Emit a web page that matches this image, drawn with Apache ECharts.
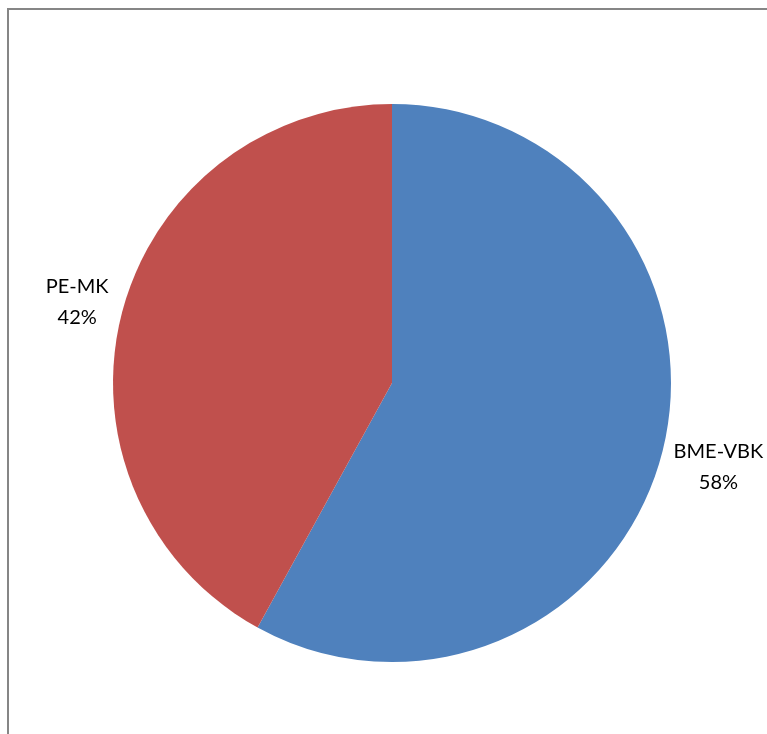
<!DOCTYPE html>
<html>
<head>
<meta charset="utf-8">
<script src="https://cdn.jsdelivr.net/npm/echarts@6/dist/echarts.min.js"></script>
<style>html,body{margin:0;padding:0;background:#fff;}#c{width:767px;height:734px;}</style>
</head>
<body>
<div id="c"></div>
<script>
const categories = ['BME-VBK', 'PE-MK'];
const values = [58, 42];
const colors = ['#4F81BD', '#C0504D'];

const cx = 392, cy = 383, r = 279;
const labelRadii = [337, 325];
const total = values.reduce((a, b) => a + b, 0);
function midAngle(i) {
  let before = 0;
  for (let k = 0; k < i; k++) before += values[k];
  return ((before + values[i] / 2) / total) * 2 * Math.PI;
}

const chart = echarts.init(document.getElementById('c'), null, {renderer: 'canvas'});
chart.setOption({
  animation: false,
  backgroundColor: '#ffffff',
  graphic: [{
    type: 'rect',
    shape: {x: 8, y: 9, width: 900, height: 900},
    style: {fill: 'none', stroke: '#868686', lineWidth: 2},
    z: -1
  }],
  series: [{
    type: 'pie',
    center: [cx, cy],
    radius: [0, r],
    startAngle: 90,
    clockwise: true,
    data: categories.map((c, i) => ({name: c, value: values[i], itemStyle: {color: colors[i]}})),
    itemStyle: {borderWidth: 0},
    label: {
      show: true,
      position: 'outside',
      formatter: p => p.name + '\n' + Math.round(p.percent) + '%',
      fontFamily: 'Lato',
      fontSize: 20,
      lineHeight: 31,
      color: '#000',
      align: 'center'
    },
    labelLine: {show: false, length: 0, length2: 0},
    labelLayout: function (params) {
      const a = midAngle(params.dataIndex);
      const lr = labelRadii[params.dataIndex];
      return {
        x: cx + lr * Math.sin(a),
        y: cy - lr * Math.cos(a),
        align: 'center',
        verticalAlign: 'middle'
      };
    },
    emphasis: {disabled: true}
  }]
});
</script>
</body>
</html>
